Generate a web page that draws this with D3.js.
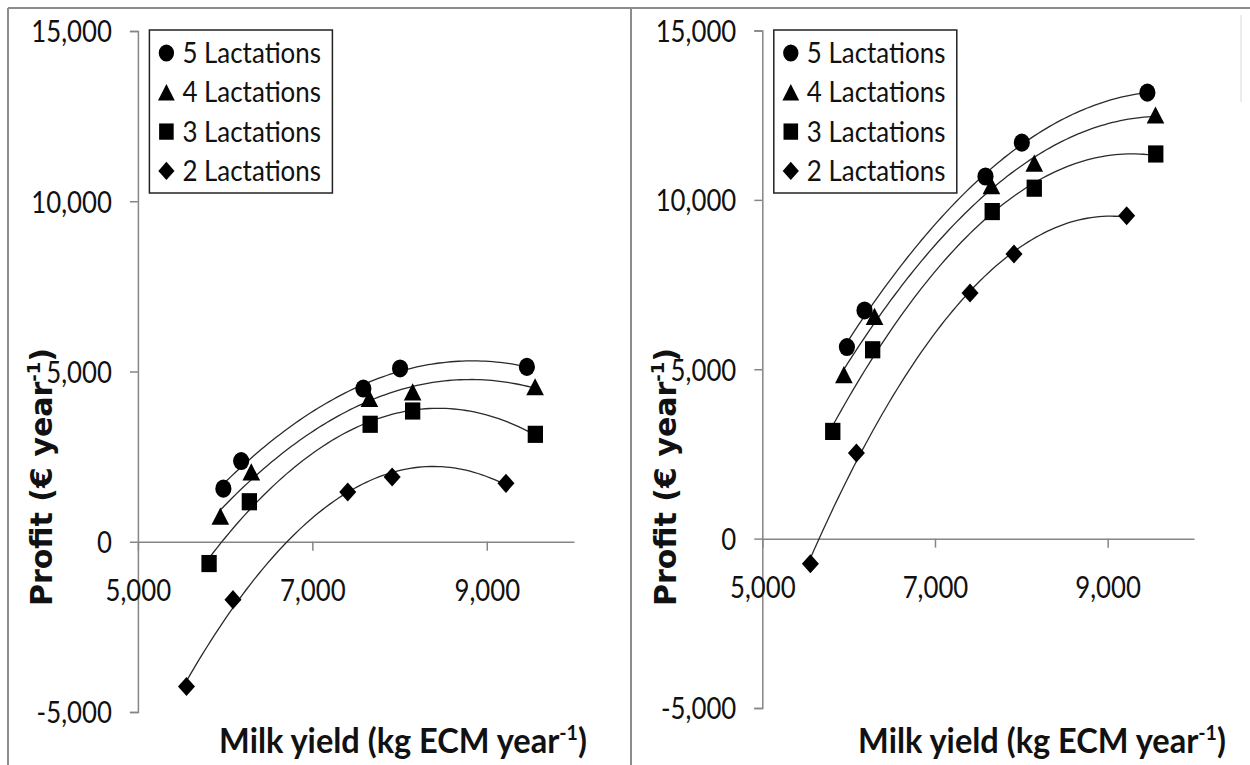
<!DOCTYPE html>
<html>
<head>
<meta charset="utf-8">
<script src="https://cdn.jsdelivr.net/npm/d3@7"></script>
<style>
body { margin: 0; background: #fff; }
svg { display: block; }
</style>
</head>
<body>
<svg id="chart" width="1250" height="765"></svg>
<script>
// series names (legend order)
var SERIES = ["5 Lactations", "4 Lactations", "3 Lactations", "2 Lactations"];

// milk yield (kg ECM / year) per series, same in both panels
var yield5 = [5980, 6184, 7585, 8006, 9460];
var yield4 = [5945, 6300, 7654, 8150, 9554];
var yield3 = [5816, 6278, 7663, 8150, 9557];
var yield2 = [5557, 6090, 7406, 7915, 9220];

// profit (euro / year), left panel
var profitL5 = [1560, 2370, 4500, 5090, 5135];
var profitL4 = [750, 2050, 4210, 4400, 4550];
var profitL3 = [-640, 1175, 3450, 3840, 3155];
var profitL2 = [-4250, -1700, 1460, 1900, 1715];

// profit (euro / year), right panel
var profitR5 = [5655, 6735, 10690, 11690, 13165];
var profitR4 = [4840, 6560, 10415, 11085, 12505];
var profitR3 = [3165, 5575, 9655, 10345, 11355];
var profitR2 = [-740, 2530, 7250, 8400, 9530];

var X_TICKS = [5000, 7000, 9000];
var Y_TICKS = [-5000, 0, 5000, 10000, 15000];
var X_DOMAIN = [5000, 10000];
var Y_DOMAIN = [-5000, 15000];

// layout
var AXIS = "#868686";
var FONT = "Lato, 'Open Sans', sans-serif";
var TICK_FONT = 30, TICK_SQUEEZE = 0.86;
var STRETCH = 1.12;   // markers are a bit taller than wide in the picture

var panels = [
    {left: 137.9, right: 574, top: 31, bottom: 712, titleX: 403,
     profits: [profitL5, profitL4, profitL3, profitL2]},
    {left: 762.3, right: 1194, top: 30.5, bottom: 708, titleX: 1042,
     profits: [profitR5, profitR4, profitR3, profitR2]}
];
var yields = [yield5, yield4, yield3, yield2];

var fmt = d3.formatLocale({decimal: ".", thousands: ",", grouping: [3], currency: ["", ""], minus: "-"}).format(",");

var svg = d3.select("#chart");

// frame of the original figure
var frame = svg.append("g").attr("stroke", "#8c8c8c").attr("stroke-width", 2);
frame.append("line").attr("x1", 8).attr("x2", 1250).attr("y1", 8).attr("y2", 8);
frame.append("line").attr("x1", 8).attr("x2", 8).attr("y1", 8).attr("y2", 765);
frame.append("line").attr("x1", 631).attr("x2", 631).attr("y1", 8).attr("y2", 765);
svg.append("line").attr("x1", 1241).attr("x2", 1241).attr("y1", 15).attr("y2", 102)
    .attr("stroke", "#d8d8d8").attr("stroke-width", 1);

// marker shapes: circle, triangle, square, diamond
function marker(i) {
    if (i === 0) return {d: d3.symbol(d3.symbolCircle, 205)(), t: ""};
    if (i === 1) return {d: d3.symbol(d3.symbolTriangle, 135)(), t: " translate(0,2.5)"};
    if (i === 2) return {d: d3.symbol(d3.symbolSquare, 235)(), t: ""};
    return {d: d3.symbol(d3.symbolSquare, 145)(), t: " rotate(45)"};
}

// least squares quadratic (Excel polynomial trendline, order 2)
function quadFit(xs, ys) {
    var u = xs.map(function(v){ return (v - 7500) / 1000; });
    var s = [0, 0, 0, 0, 0], t = [0, 0, 0];
    for (var k = 0; k < u.length; k++) {
        var p = 1;
        for (var j = 0; j < 5; j++) { s[j] += p; if (j < 3) t[j] += p * ys[k]; p *= u[k]; }
    }
    var A = [[s[0], s[1], s[2], t[0]], [s[1], s[2], s[3], t[1]], [s[2], s[3], s[4], t[2]]];
    for (var c = 0; c < 3; c++) {
        for (var r = c + 1; r < 3; r++) {
            var f = A[r][c] / A[c][c];
            for (var q = c; q < 4; q++) A[r][q] -= f * A[c][q];
        }
    }
    var b = [0, 0, 0];
    for (var r2 = 2; r2 >= 0; r2--) {
        var v = A[r2][3];
        for (var q2 = r2 + 1; q2 < 3; q2++) v -= A[r2][q2] * b[q2];
        b[r2] = v / A[r2][r2];
    }
    return function(xv) { var w = (xv - 7500) / 1000; return b[0] + b[1] * w + b[2] * w * w; };
}

panels.forEach(function(P) {
    var x = d3.scaleLinear().domain(X_DOMAIN).range([P.left, P.right]);
    var y = d3.scaleLinear().domain(Y_DOMAIN).range([P.bottom, P.top]);
    var g = svg.append("g");

    // y axis
    var ya = g.append("g").attr("transform", "translate(" + P.left + ",0)")
        .call(d3.axisLeft(y).tickValues(Y_TICKS).tickFormat(fmt).tickSize(8).tickSizeOuter(8).tickPadding(18));
    // x axis along zero
    var xa = g.append("g").attr("transform", "translate(0," + y(0) + ")")
        .call(d3.axisBottom(x).tickValues(X_TICKS).tickFormat(fmt).tickSize(9).tickSizeOuter(0).tickPadding(29));
    [ya, xa].forEach(function(a) {
        a.select(".domain").attr("stroke", AXIS).attr("stroke-width", 1.5);
        a.selectAll(".tick line").attr("stroke", AXIS).attr("stroke-width", 1.5);
        a.selectAll(".tick text").attr("fill", "#111")
            .style("font-family", FONT).style("font-size", TICK_FONT + "px");
    });
    ya.selectAll(".tick text").attr("x", -26 / TICK_SQUEEZE).attr("dy", "0.36em")
        .attr("transform", "scale(" + TICK_SQUEEZE + ",1)");
    xa.selectAll(".tick text").attr("transform", "scale(" + TICK_SQUEEZE + ",1)");

    // trendlines
    var line = d3.line().x(function(d){ return x(d[0]); }).y(function(d){ return y(d[1]); });
    yields.forEach(function(xs, i) {
        var fit = quadFit(xs, P.profits[i]);
        var lo = d3.min(xs), hi = d3.max(xs);
        var pts = d3.range(81).map(function(k){ var xv = lo + (hi - lo) * k / 80; return [xv, fit(xv)]; });
        g.append("path").attr("d", line(pts)).attr("fill", "none")
            .attr("stroke", "#2a2a2a").attr("stroke-width", 1.3);
    });

    // points
    yields.forEach(function(xs, i) {
        var m = marker(i);
        g.append("g").selectAll("path").data(xs).enter().append("path")
            .attr("d", m.d).attr("fill", "#000")
            .attr("transform", function(d, k){
                return "translate(" + x(d) + "," + y(P.profits[i][k]) + ") scale(1," + STRETCH + ")" + m.t;
            });
    });

    // legend
    var lx = P.left + 11.5, ly = 30;
    var leg = g.append("g").attr("transform", "translate(" + lx + "," + ly + ")");
    leg.append("rect").attr("width", 183).attr("height", 163)
        .attr("fill", "#fff").attr("stroke", "#222").attr("stroke-width", 1.5);
    SERIES.forEach(function(name, i) {
        var m = marker(i);
        var ry = 23 + i * 39.3;
        leg.append("path").attr("d", m.d).attr("fill", "#000")
            .attr("transform", "translate(17," + ry + ") scale(0.95," + (0.95 * STRETCH) + ")" + m.t);
        leg.append("text").attr("x", 33).attr("y", ry).attr("dy", "0.36em")
            .attr("transform", "translate(33," + ry + ") scale(0.96,1.04)")
            .attr("x", 0).attr("y", 0)
            .style("font-family", FONT).style("font-size", "27px").attr("fill", "#111")
            .text(name);
    });

    // axis titles
    var xt = g.append("text").attr("text-anchor", "middle")
        .attr("transform", "translate(" + P.titleX + ",753) scale(0.93,1)")
        .style("font-family", FONT).style("font-size", "35px").style("font-weight", "bold").attr("fill", "#111");
    xt.append("tspan").text("Milk yield (kg ECM year");
    xt.append("tspan").attr("dy", -13).style("font-size", "21px").text("-1");
    xt.append("tspan").attr("dy", 13).text(")");

    var yt = g.append("text").attr("text-anchor", "middle")
        .attr("transform", "translate(" + (P.left - 86) + ",477) rotate(-90)")
        .style("font-family", "'DejaVu Sans', sans-serif").style("font-size", "30px")
        .style("font-weight", "bold").attr("fill", "#111");
    yt.append("tspan").text("Profit (€ year");
    yt.append("tspan").attr("dy", -12).style("font-size", "18px").text("-1");
    yt.append("tspan").attr("dy", 12).text(")");
});
</script>
</body>
</html>
